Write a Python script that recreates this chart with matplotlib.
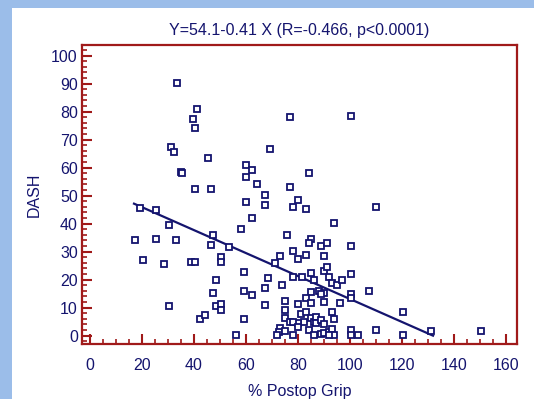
import matplotlib
matplotlib.use("Agg")
import matplotlib.pyplot as plt
import numpy as np
from matplotlib.ticker import MultipleLocator
from matplotlib.patches import Rectangle

plt.rcParams['font.family'] = ['Liberation Sans', 'DejaVu Sans']

postop_grip = [33.5, 41.4, 39.5, 40.3, 77.1, 100.3, 31.3, 32.2, 69.4, 45.4,
               34.9, 35.3, 60.2, 62.3, 60.2, 84.2, 64.3, 40.3, 46.5, 77.1,
               67.3, 67.3, 60.2, 80.2, 78.1, 83.1, 110.1, 19.2, 25.4, 94.1,
               30.4, 62.3, 58.2, 17.3, 25.4, 33.2, 47.5, 46.5, 53.7, 76.0,
               85.1, 84.2, 89.1, 91.1, 100.3, 20.3, 28.4, 39.1, 40.4, 50.5,
               50.5, 78.1, 80.2, 83.1, 73.0, 71.1, 90.2, 59.2, 48.4, 68.5,
               78.1, 81.7, 85.1, 86.1, 90.2, 91.1, 92.0, 93.2, 95.2, 97.1,
               100.3, 59.2, 62.3, 67.3, 73.9, 47.4, 107.2, 100.3, 100.3, 85.1,
               88.2, 90.2, 89.1, 83.1, 85.1, 90.2, 96.2, 80.2, 75.1, 75.1,
               67.3, 48.4, 50.5, 50.5, 30.4, 42.4, 44.4, 59.2, 120.4, 93.2,
               75.1, 77.1, 81.2, 83.1, 82.4, 80.2, 78.1, 85.1, 86.1, 87.0,
               87.1, 89.1, 90.2, 94.1, 80.2, 84.2, 73.0, 72.6, 75.1, 72.1,
               78.1, 86.1, 89.1, 90.2, 92.0, 93.2, 94.1, 92.1, 56.2, 100.3,
               100.3, 103.3, 110.1, 120.4, 131.2, 150.4]
dash = [90.1, 81.1, 77.4, 74.2, 78.0, 78.6, 67.5, 65.7, 66.7, 63.6,
        58.5, 58.1, 61.1, 59.0, 56.5, 58.2, 54.0, 52.4, 52.4, 53.1,
        50.1, 46.8, 47.7, 48.6, 46.1, 45.2, 46.0, 45.4, 45.0, 40.1,
        39.6, 42.0, 38.2, 34.0, 34.4, 34.0, 36.0, 32.3, 31.8, 36.1,
        34.4, 33.2, 32.0, 32.9, 32.0, 26.9, 25.4, 26.3, 26.3, 28.1,
        26.3, 30.1, 27.5, 28.8, 28.3, 26.0, 28.3, 22.7, 19.9, 20.4,
        21.1, 21.1, 22.3, 19.9, 23.2, 24.5, 21.1, 18.7, 18.1, 19.9,
        22.1, 16.1, 14.4, 16.9, 17.9, 15.1, 16.1, 15.0, 13.3, 15.6,
        16.1, 15.1, 14.8, 13.3, 11.8, 12.0, 11.8, 11.4, 12.5, 9.3,
        10.8, 10.4, 11.4, 9.3, 10.4, 5.8, 7.5, 5.8, 8.6, 8.5,
        6.2, 4.9, 7.6, 8.3, 5.0, 4.6, 4.9, 6.2, 5.0, 6.8,
        4.4, 5.5, 4.0, 5.8, 2.9, 2.0, 2.6, 1.3, 1.7, 0.1,
        0.1, 0.1, 0.4, 1.1, 1.3, 2.3, 0.2, 0.1, 0.1, 2.0,
        0.1, 0.1, 2.0, 0.1, 1.8, 1.8]

intercept = 54.1
slope = -0.41
fit_range = [17.0, 132.0]

title_text = "Y=54.1-0.41 X (R=-0.466, p<0.0001)"
x_label = "% Postop Grip"
y_label = "DASH"

navy = "#14146e"
red = "#a01a1a"
border_blue = "#9bbde9"

fig = plt.figure(figsize=(5.34, 3.99), dpi=100)
fig.patch.set_facecolor("white")
# blue decorative border
fig.add_artist(Rectangle((0, 1 - 8 / 399), 1, 8 / 399, transform=fig.transFigure,
                         facecolor=border_blue, edgecolor="none", zorder=0))
fig.add_artist(Rectangle((0, 0), 12 / 534, 1, transform=fig.transFigure,
                         facecolor=border_blue, edgecolor="none", zorder=0))

ax = fig.add_axes([82 / 534, 55 / 399, 435 / 534, 299 / 399])
ax.set_facecolor("white")

ax.plot(postop_grip, dash, linestyle="none", marker="s", markersize=4.8,
        markerfacecolor="white", markeredgecolor=navy, markeredgewidth=1.3,
        zorder=3)

lx = np.array(fit_range)
ax.plot(lx, intercept + slope * lx, color=navy, linewidth=1.6, zorder=2)

ax.set_xlim(-3, 164.3)
ax.set_ylim(-3, 103.8)
ax.xaxis.set_major_locator(MultipleLocator(20))
ax.xaxis.set_minor_locator(MultipleLocator(5))
ax.yaxis.set_major_locator(MultipleLocator(10))
ax.yaxis.set_minor_locator(MultipleLocator(2))

for s in ax.spines.values():
    s.set_color(red)
    s.set_linewidth(1.6)

ax.tick_params(axis="both", which="both", direction="in", color=red,
               labelcolor=navy, labelsize=11.5)
ax.tick_params(axis="both", which="major", length=7, width=1.5)
ax.tick_params(axis="both", which="minor", length=3.5, width=1.2)
ax.tick_params(axis="x", which="major", pad=10)
ax.tick_params(axis="y", which="major", pad=3)

ax.set_title(title_text, color=navy, fontsize=11.5, pad=7)
ax.set_xlabel(x_label, color=navy, fontsize=11.5, labelpad=8)
ax.set_ylabel(y_label, color=navy, fontsize=11.5, labelpad=7)

fig.savefig("out.png", dpi=100)
